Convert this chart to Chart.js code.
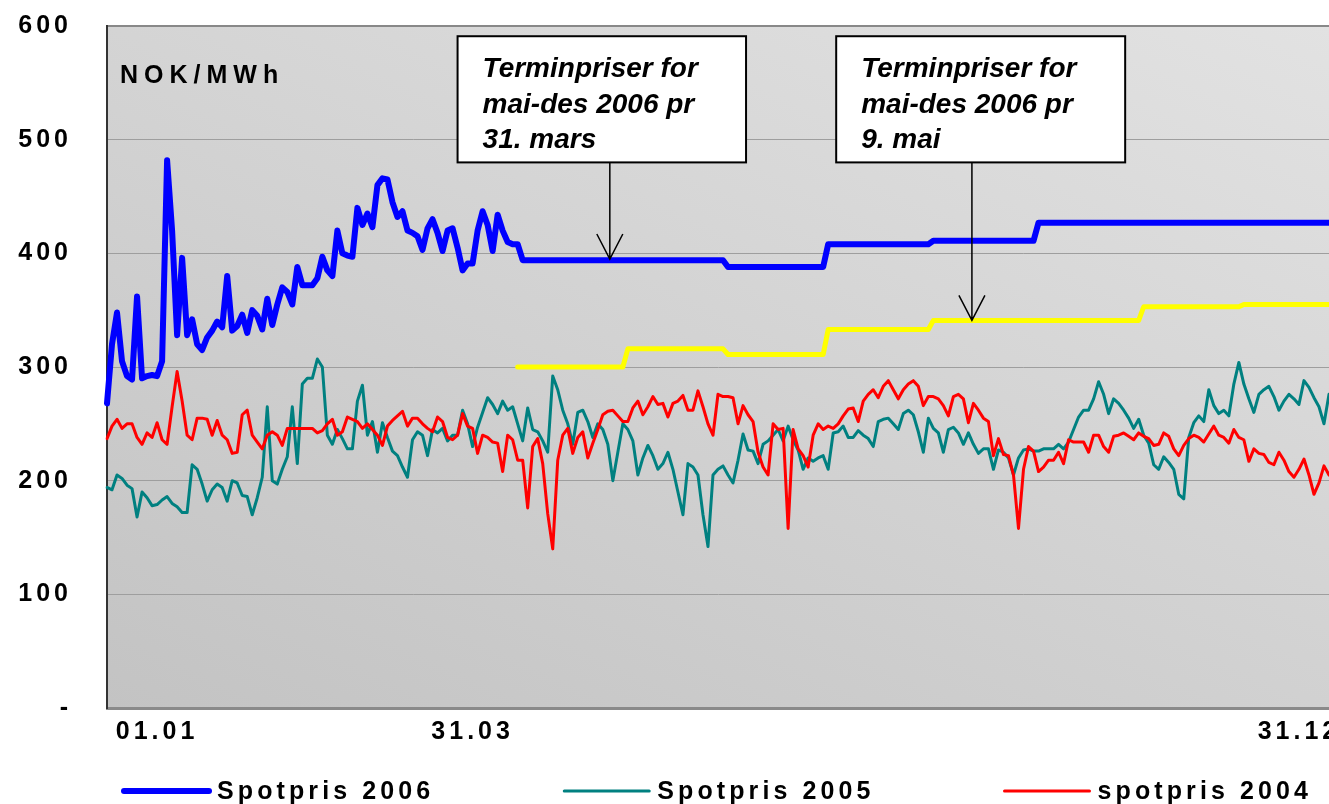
<!DOCTYPE html>
<html>
<head>
<meta charset="utf-8">
<title>Spotpriser og terminpriser 2006</title>
<script src="https://cdn.jsdelivr.net/npm/chart.js@4.4.0/dist/chart.umd.min.js"></script>
<style>
  html, body { margin: 0; padding: 0; background: #fff; }
</style>
</head>
<body>
<canvas id="priceChart" width="1329" height="804"></canvas>
<script>
// Dates on the x axis: only three categories carry a label
const tickIndex = [10, 73, 238];
const tickText = ['01.01', '31.03', '31.12'];

// Spotpris 2006 (actual to early April, then forward prices per 31. mars)
const spot2006 = [
  268, 320, 348, 305, 292, 289, 362, 290, 292, 293,
  292, 305, 482, 420, 328, 396, 328, 342, 320, 315,
  326, 332, 340, 335, 380, 332, 336, 346, 330, 350,
  345, 333, 360, 337, 355, 370, 366, 355, 388, 372,
  372, 372, 378, 397, 385, 380, 420, 400, 398, 397,
  440, 425, 435, 423, 460, 466, 465, 445, 432, 437,
  420, 418, 415, 403, 422, 430, 418, 402, 420, 422,
  405, 385, 391, 391, 420, 437, 425, 402, 434, 420,
  410, 408, 408, 394, 394, 394, 394, 394, 394, 394,
  394, 394, 394, 394, 394, 394, 394, 394, 394, 394,
  394, 394, 394, 394, 394, 394, 394, 394, 394, 394,
  394, 394, 394, 394, 394, 394, 394, 394, 394, 394,
  394, 394, 394, 394, 388, 388, 388, 388, 388, 388,
  388, 388, 388, 388, 388, 388, 388, 388, 388, 388,
  388, 388, 388, 388, 408, 408, 408, 408, 408, 408,
  408, 408, 408, 408, 408, 408, 408, 408, 408, 408,
  408, 408, 408, 408, 408, 411, 411, 411, 411, 411,
  411, 411, 411, 411, 411, 411, 411, 411, 411, 411,
  411, 411, 411, 411, 411, 411, 427, 427, 427, 427,
  427, 427, 427, 427, 427, 427, 427, 427, 427, 427,
  427, 427, 427, 427, 427, 427, 427, 427, 427, 427,
  427, 427, 427, 427, 427, 427, 427, 427, 427, 427,
  427, 427, 427, 427, 427, 427, 427, 427, 427, 427,
  427, 427, 427, 427, 427, 427, 427, 427, 427, 427,
  427, 427, 427, 427, 427
];

// Forward prices per 9. mai (yellow), starts at category 82
const terminStart = 82;
const termin9mai = [
  300, 300, 300, 300, 300, 300, 300, 300, 300, 300, 300,
  300, 300, 300, 300, 300, 300, 300, 300, 300, 300, 300,
  316, 316, 316, 316, 316, 316, 316, 316, 316, 316,
  316, 316, 316, 316, 316, 316, 316, 316, 316, 316,
  311, 311, 311, 311, 311, 311, 311, 311, 311, 311,
  311, 311, 311, 311, 311, 311, 311, 311, 311, 311,
  333, 333, 333, 333, 333, 333, 333, 333, 333, 333,
  333, 333, 333, 333, 333, 333, 333, 333, 333, 333, 333,
  341, 341, 341, 341, 341, 341, 341, 341, 341, 341,
  341, 341, 341, 341, 341, 341, 341, 341, 341, 341,
  341, 341, 341, 341, 341, 341, 341, 341, 341, 341,
  341, 341, 341, 341, 341, 341, 341, 341, 341, 341,
  341, 341,
  353, 353, 353, 353, 353, 353, 353, 353, 353, 353,
  353, 353, 353, 353, 353, 353, 353, 353, 353, 353,
  355, 355, 355, 355, 355, 355, 355, 355, 355,
  355, 355, 355, 355, 355, 355, 355, 355, 355
];

const spot2005 = [
  194, 192, 205, 202, 196, 193, 168, 190, 185, 178,
  179, 183, 186, 180, 177, 172, 172, 214, 210, 197,
  182, 192, 197, 194, 182, 200, 198, 187, 186, 170,
  185, 203, 265, 200, 197, 210, 221, 265, 215, 285,
  290, 290, 307, 300, 240, 232, 245, 237, 228, 228,
  270, 284, 240, 252, 225, 251, 238, 226, 222, 212,
  203, 236, 243, 240, 222, 245, 242, 246, 235, 240,
  240, 262, 250, 230, 247, 260, 273, 267, 259, 270,
  262, 265, 250, 235, 264, 245, 243, 235, 225, 292,
  280, 262, 250, 232, 260, 262, 252, 238, 250, 245,
  232, 200, 225, 250, 245, 235, 205, 220, 231, 222,
  210, 215, 225, 210, 190, 170, 215, 212, 205, 170,
  142, 205, 210, 213, 205, 198, 218, 241, 227, 226,
  215, 232, 235, 240, 245, 235, 248, 236, 227, 210,
  220, 217, 220, 222, 210, 242, 243, 248, 238, 238,
  244, 240, 237, 230, 252, 254, 255, 250, 245, 259,
  262, 258, 243, 225, 255, 246, 242, 225, 245, 247,
  242, 232, 242, 232, 224, 228, 228, 210, 227, 225,
  220, 205, 220, 227, 228, 226, 226, 228, 228, 228,
  232, 228, 234, 245, 256, 262, 262, 272, 287, 276,
  259, 272, 268, 262, 255, 246, 254, 240, 233, 214,
  210, 221, 216, 210, 188, 184, 238, 251, 257, 252,
  280, 266, 259, 262, 257, 285, 304, 285, 272, 260,
  276, 280, 283, 274, 262, 270, 276, 272, 267, 288,
  282, 273, 265, 250, 276
];

const spot2004 = [
  237, 248, 254, 246, 250, 250, 238, 232, 242, 238,
  251, 236, 232, 265, 296, 270, 240, 236, 255, 255,
  254, 240, 253, 240, 236, 224, 225, 258, 262, 240,
  234, 228, 240, 243, 240, 231, 246, 246, 246, 246,
  246, 246, 242, 244, 250, 254, 240, 243, 256, 254,
  252, 246, 250, 245, 240, 231, 248, 253, 257, 261,
  248, 255, 255, 250, 246, 243, 256, 252, 238, 236,
  240, 259, 248, 246, 224, 240, 238, 234, 233, 208,
  240, 236, 218, 218, 176, 230, 237, 215, 171, 140,
  218, 240, 246, 224, 238, 243, 220, 233, 245, 258,
  261, 262, 257, 252, 252, 264, 270, 258, 265, 274,
  267, 268, 256, 268, 270, 275, 262, 262, 279, 265,
  250, 240, 276, 274, 274, 273, 250, 266, 258, 252,
  225, 212, 205, 250, 245, 246, 158, 245, 228, 222,
  212, 240, 250, 245, 248, 246, 250, 257, 263, 264,
  252, 270, 276, 280, 273, 283, 288, 280, 272, 280,
  285, 288, 283, 266, 274, 274, 272, 266, 257, 274,
  276, 272, 251, 268, 262, 255, 252, 222, 237, 223,
  222, 205, 158, 210, 230, 226, 208, 212, 218, 218,
  225, 215, 236, 234, 234, 234, 225, 240, 240, 230,
  225, 239, 240, 242, 239, 236, 242, 239, 237, 231,
  232, 242, 239, 228, 222, 231, 237, 240, 238, 234,
  241, 248, 240, 238, 233, 245, 238, 236, 217, 228,
  224, 223, 216, 214, 225, 218, 208, 203, 210, 219,
  205, 188, 198, 213, 205
];

// Callout boxes (category range, value range) and their arrows
const noteLines = [
  ['Terminpriser for', 'mai-des 2006 pr', '31. mars'],
  ['Terminpriser for', 'mai-des 2006 pr', '9. mai']
];
const noteFrom = [70, 145.6];
const noteTo = [127.6, 203.3];
const noteTop = 591;
const noteBottom = 480;
const arrowAt = [100.4, 172.7];
const arrowTip = [395, 341];

const legendOrder = [0, 3, 2];
const FONT = '"Liberation Sans", Arial, Helvetica, sans-serif';

const labels = spot2004.map((v, i) => {
    const k = tickIndex.indexOf(i);
    return k >= 0 ? tickText[k] : '';
});
const terminData = new Array(terminStart).fill(null).concat(termin9mai);

Chart.defaults.font.family = FONT;

// grey plot background + letter spacing used by the tick labels
const plotBackground = {
    id: 'plotBackground',
    beforeUpdate(chart) {
        chart.ctx.letterSpacing = '4px';
    },
    beforeDraw(chart) {
        const { ctx, chartArea: a } = chart;
        ctx.save();
        const g = ctx.createLinearGradient(a.left, a.bottom, a.left + 473, a.bottom - 1028);
        g.addColorStop(0, '#c3c3c3');
        g.addColorStop(1, '#e2e2e2');
        ctx.fillStyle = g;
        ctx.fillRect(a.left, a.top, a.width, a.height);
        ctx.restore();
        ctx.letterSpacing = '4px';
    },
    beforeDatasetsDraw(chart) {
        const { ctx, chartArea: a } = chart;
        ctx.save();
        ctx.letterSpacing = '6px';
        ctx.font = 'bold 25px ' + FONT;
        ctx.fillStyle = '#000';
        ctx.textBaseline = 'alphabetic';
        ctx.fillText('NOK/MWh', a.left + 13, a.top + 57);
        ctx.restore();
    }
};

const callouts = {
    id: 'callouts',
    afterDatasetsDraw(chart) {
        const { ctx } = chart;
        const xs = chart.scales.x, ys = chart.scales.y;
        ctx.save();
        ctx.letterSpacing = '0px';
        noteLines.forEach((lines, n) => {
            const left = xs.getPixelForValue(noteFrom[n]);
            const right = xs.getPixelForValue(noteTo[n]);
            const top = ys.getPixelForValue(noteTop);
            const bottom = ys.getPixelForValue(noteBottom);
            ctx.fillStyle = '#fff';
            ctx.fillRect(left, top, right - left, bottom - top);
            ctx.strokeStyle = '#000';
            ctx.lineWidth = 2;
            ctx.strokeRect(left, top, right - left, bottom - top);
            ctx.fillStyle = '#000';
            ctx.font = 'italic bold 28px ' + FONT;
            ctx.textBaseline = 'alphabetic';
            lines.forEach((t, k) => ctx.fillText(t, left + 25, top + 41 + k * 35.5));

            // arrow
            const ax = xs.getPixelForValue(arrowAt[n]);
            const tip = ys.getPixelForValue(arrowTip[n]);
            ctx.lineWidth = 1.5;
            ctx.beginPath();
            ctx.moveTo(ax, bottom);
            ctx.lineTo(ax, tip);
            ctx.moveTo(ax - 13, tip - 25);
            ctx.lineTo(ax, tip);
            ctx.lineTo(ax + 13, tip - 25);
            ctx.stroke();
        });
        ctx.restore();
    }
};

const bottomLegend = {
    id: 'bottomLegend',
    afterDraw(chart) {
        const { ctx, chartArea: a } = chart;
        const lineLen = 85, textGap = 8, itemGap = 130;
        ctx.save();
        ctx.letterSpacing = '4.1px';
        ctx.font = 'bold 25px ' + FONT;
        const items = legendOrder.map(i => chart.data.datasets[i]);
        const widths = items.map(d => lineLen + textGap + ctx.measureText(d.label).width);
        const total = widths.reduce((s, w) => s + w, 0) + itemGap * (items.length - 1);
        let x = (a.left + a.right) / 2 - total / 2;
        const y = chart.height - 13;
        items.forEach((d, k) => {
            ctx.strokeStyle = d.borderColor;
            ctx.lineWidth = d.borderWidth;
            ctx.lineCap = 'round';
            ctx.beginPath();
            ctx.moveTo(x, y);
            ctx.lineTo(x + lineLen, y);
            ctx.stroke();
            ctx.fillStyle = '#000';
            ctx.textBaseline = 'middle';
            ctx.fillText(d.label, x + lineLen + textGap, y + 1);
            x += widths[k] + itemGap;
        });
        ctx.restore();
    }
};

// the plot frame is fixed, so drop the label overhang padding of the scales
function noOverhang(s) {
    s.paddingTop = 0;
    s.paddingBottom = 0;
    s.paddingLeft = 0;
    s.paddingRight = 0;
}

const lineStyle = {
    pointRadius: 0,
    pointHoverRadius: 0,
    tension: 0,
    borderJoinStyle: 'round',
    borderCapStyle: 'round',
    fill: false
};

const ctx = document.getElementById('priceChart').getContext('2d');
const priceChart = new Chart(ctx, {
    type: 'line',
    data: {
        labels: labels,
        datasets: [
            Object.assign({ label: 'Spotpris 2006', data: spot2006, borderColor: '#0000ff', borderWidth: 6 }, lineStyle),
            Object.assign({ label: 'Terminpriser 9. mai', data: terminData, borderColor: '#ffff00', borderWidth: 5 }, lineStyle),
            Object.assign({ label: 'spotpris 2004', data: spot2004, borderColor: '#ff0000', borderWidth: 3 }, lineStyle),
            Object.assign({ label: 'Spotpris 2005', data: spot2005, borderColor: '#008080', borderWidth: 3 }, lineStyle)
        ]
    },
    options: {
        responsive: false,
        animation: false,
        devicePixelRatio: 1,
        layout: { padding: { top: 26, right: 0, bottom: 0, left: 0 } },
        plugins: {
            legend: { display: false },
            tooltip: { enabled: false }
        },
        scales: {
            x: {
                grid: { display: false, drawTicks: false },
                border: { display: true, color: '#8a8a8a', width: 3 },
                ticks: {
                    autoSkip: false,
                    maxRotation: 0,
                    padding: 9,
                    color: '#000',
                    font: { size: 25, weight: 'bold' }
                },
                afterFit: s => { s.height = 96; noOverhang(s); }
            },
            y: {
                min: 0,
                max: 600,
                ticks: {
                    stepSize: 100,
                    padding: 35,
                    color: '#000',
                    font: { size: 25, weight: 'bold' },
                    callback: v => v === 0 ? '-' : v
                },
                grid: {
                    drawTicks: false,
                    color: c => (c.tick && c.tick.value === 600) ? '#888888' : '#9e9e9e',
                    lineWidth: c => (c.tick && c.tick.value === 600) ? 2 : 1
                },
                border: { color: '#333', width: 2 },
                afterFit: s => { s.width = 107; noOverhang(s); }
            }
        }
    },
    plugins: [plotBackground, callouts, bottomLegend]
});
</script>
</body>
</html>
